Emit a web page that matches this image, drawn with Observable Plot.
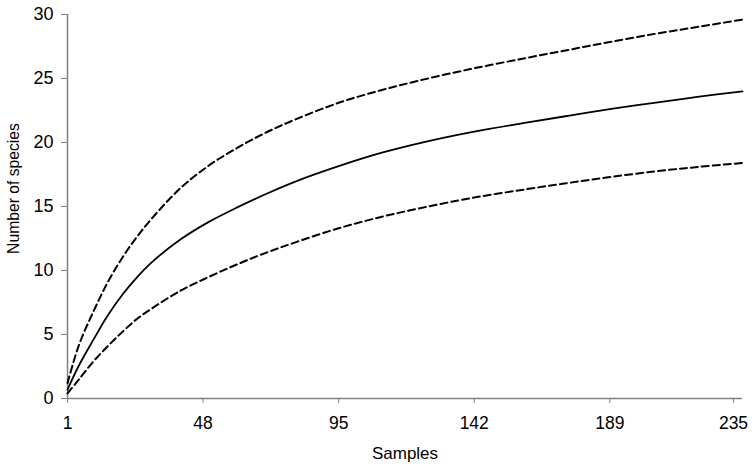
<!DOCTYPE html>
<html><head><meta charset="utf-8">
<script src="https://cdn.jsdelivr.net/npm/d3@7"></script>
<script src="https://cdn.jsdelivr.net/npm/@observablehq/plot@0.6"></script>
<style>body{margin:0;background:#fff}</style>
</head><body><div id="chart"></div>
<script>
const samples     = [1, 5, 10, 15, 20, 25, 30, 40, 50, 60, 70, 80, 95, 110, 125, 142, 160, 175, 189, 205, 220, 235];
const meanSpecies = [0.7, 2.6, 4.6, 6.5, 8.1, 9.45, 10.6, 12.4, 13.8, 14.95, 16.0, 16.95, 18.15, 19.2, 20.05, 20.85, 21.55, 22.1, 22.6, 23.12, 23.58, 24.0];
const upperCI     = [1.2, 4.2, 6.8, 9.1, 11.0, 12.6, 14.0, 16.4, 18.2, 19.6, 20.8, 21.8, 23.1, 24.1, 24.95, 25.8, 26.6, 27.25, 27.85, 28.5, 29.05, 29.6];
const lowerCI     = [0.4, 1.5, 2.9, 4.1, 5.2, 6.2, 7.0, 8.4, 9.5, 10.5, 11.4, 12.2, 13.3, 14.2, 14.95, 15.7, 16.35, 16.85, 17.3, 17.75, 18.1, 18.4];
const xTicks = [1, 48, 95, 142, 189, 235];
const yTicks = [0, 5, 10, 15, 20, 25, 30];
const xLabel = "Samples";
const yLabel = "Number of species";

const rows = samples.map((s, i) => ({s, mean: meanSpecies[i], up: upperCI[i], lo: lowerCI[i]}));

const chart = Plot.plot({
  width: 756, height: 467,
  marginLeft: 67, marginRight: 14, marginTop: 14, marginBottom: 69,
  style: {fontFamily: "'Liberation Sans', Arial, sans-serif", fontSize: "17.5px", color: "#000", background: "#fff"},
  x: {domain: [1, 235]},
  y: {domain: [0, 30]},
  marks: [
    Plot.axisX({ticks: xTicks.slice(0, -1), tickSize: 5, tickPadding: 13, stroke: "#808080", fill: "#000", fontSize: 17.5, label: null, tickFormat: d => String(d)}),
    Plot.axisX({ticks: xTicks.slice(-1), tickSize: 5, tickPadding: 13, stroke: "#808080", fill: "#000", fontSize: 17.5, label: null, tickFormat: d => String(d), textAnchor: "middle", dx: -9}),
    Plot.axisY({ticks: yTicks, tickSize: 6, tickPadding: 8, stroke: "#808080", fill: "#000", fontSize: 18, label: null}),
    Plot.ruleY([0], {stroke: "#808080", strokeWidth: 1.5}),
    Plot.ruleX([1], {stroke: "#808080", strokeWidth: 1.5}),
    Plot.line(rows, {x: "s", y: "up", curve: "catmull-rom", stroke: "#000", strokeWidth: 2, strokeDasharray: "7,4"}),
    Plot.line(rows, {x: "s", y: "lo", curve: "catmull-rom", stroke: "#000", strokeWidth: 2, strokeDasharray: "7,4"}),
    Plot.line(rows, {x: "s", y: "mean", curve: "catmull-rom", stroke: "#000", strokeWidth: 1.8}),
    Plot.text([xLabel], {text: d => d, frameAnchor: "bottom", dy: 55, lineAnchor: "middle", fontSize: 17, fill: "#000"}),
    Plot.text([yLabel], {text: d => d, frameAnchor: "left", dx: -54, dy: -18, rotate: -90, lineAnchor: "middle", textAnchor: "middle", fontSize: 15.7, fill: "#000"})
  ]
});
document.getElementById("chart").appendChild(chart);
</script>
</body></html>
